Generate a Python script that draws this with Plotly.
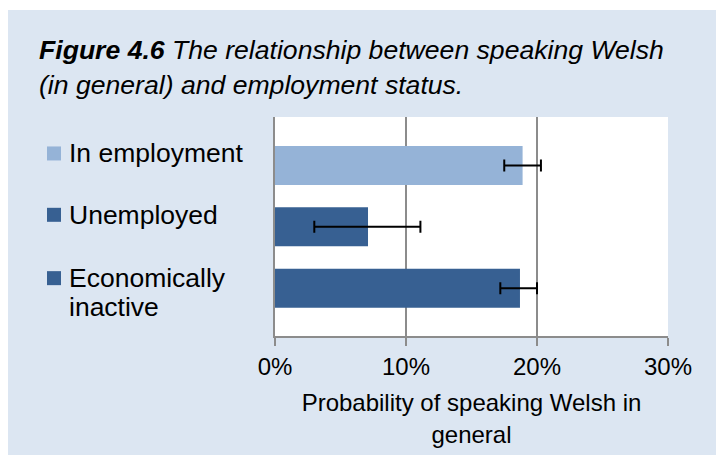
import plotly.graph_objects as go

# ---- data (top to bottom as shown) ----
categories = ["In employment", "Unemployed", "Economically inactive"]
label_lines = [["In employment"], ["Unemployed"], ["Economically", "inactive"]]
values = [18.9, 7.1, 18.7]          # probability, %
ci_low = [17.5, 3.0, 17.2]          # lower bound of error bar, %
ci_high = [20.3, 11.1, 20.0]        # upper bound of error bar, %
bar_colors = ["#95B3D7", "#376092", "#376092"]
x_ticks = [0, 10, 20, 30]
title_bold = "Figure 4.6"
title_rest = " The relationship between speaking Welsh<br>(in general) and employment status."
x_title = "Probability of speaking Welsh in<br>general"

FONT = "Arial, Liberation Sans, sans-serif"
BG = "#DCE6F2"
GRID = "#8C8C8C"

err_plus = [h - v for h, v in zip(ci_high, values)]
err_minus = [v - l for l, v in zip(ci_low, values)]

fig = go.Figure()
fig.add_trace(go.Bar(
    y=categories, x=values, orientation="h",
    marker=dict(color=bar_colors, line=dict(width=0)),
    width=0.635,
    error_x=dict(type="data", symmetric=False, array=err_plus, arrayminus=err_minus,
                 color="black", thickness=2, width=6),
    hoverinfo="skip",
))

# page body has an 8px margin, so the figure is placed at (8, 8)
OFF = 8
W, H = 724 - OFF, 455 - OFF
L, R, T = 275 - OFF, 56, 117 - OFF
B = H - (336 - OFF)
pw = W - L - R
ph = H - T - B

annotations = [dict(
    xref="paper", yref="paper",
    x=(37 - OFF - L) / pw, y=1 + (T - (33 - OFF)) / ph,
    xanchor="left", yanchor="top", align="left", showarrow=False,
    text="<b><i>" + title_bold + "</i></b><i>" + title_rest + "</i>",
    font=dict(family=FONT, size=26.6, color="black"),
)]
shapes = []
n = len(categories)
for i, (cat, lines) in enumerate(zip(categories, label_lines)):
    idx = n - 1 - i
    shifts = [12] if len(lines) == 1 else [10, -19]
    for line, sh in zip(lines, shifts):
        annotations.append(dict(
            xref="paper", yref="y", x=(67 - OFF - L) / pw, y=idx, yshift=sh,
            xanchor="left", yanchor="middle", showarrow=False, text=line,
            font=dict(family=FONT, size=26.5, color="black"),
        ))
    shapes.append(dict(
        type="rect", xref="paper", yref="y",
        xsizemode="pixel", ysizemode="pixel", xanchor=0, yanchor=idx,
        x0=-228, x1=-214, y0=shifts[0] - 7, y1=shifts[0] + 7,
        fillcolor=bar_colors[i], line=dict(width=0),
    ))
# white frame strip at the top of the picture
shapes.append(dict(type="rect", xref="paper", yref="paper",
                   x0=-L / pw, x1=1 + R / pw, y0=1 + (T - 2) / ph, y1=1 + T / ph,
                   fillcolor="white", line=dict(width=0)))

fig.update_layout(
    width=W, height=H,
    margin=dict(l=L, r=R, t=T, b=B, pad=0),
    paper_bgcolor=BG, plot_bgcolor="white",
    showlegend=False,
    font=dict(family=FONT, color="black"),
    annotations=annotations, shapes=shapes,
    xaxis=dict(
        range=[0, 30], tickvals=x_ticks, ticktext=[f"{t}%" for t in x_ticks],
        showgrid=True, gridcolor=GRID, gridwidth=1.5,
        showline=True, linecolor=GRID, linewidth=1.5,
        ticks="outside", ticklen=8, tickcolor=GRID, tickwidth=1.5,
        tickfont=dict(family=FONT, size=24, color="black"),
        title=dict(text=x_title, font=dict(family=FONT, size=24, color="black"), standoff=16),
        zeroline=False, fixedrange=True,
    ),
    yaxis=dict(
        categoryorder="array", categoryarray=categories[::-1],
        range=[-0.78, 2.79], showticklabels=False, ticks="",
        showgrid=False, showline=True, linecolor=GRID, linewidth=1.5,
        zeroline=False, fixedrange=True,
    ),
)
fig.write_html("out.html", config={"displayModeBar": False})
